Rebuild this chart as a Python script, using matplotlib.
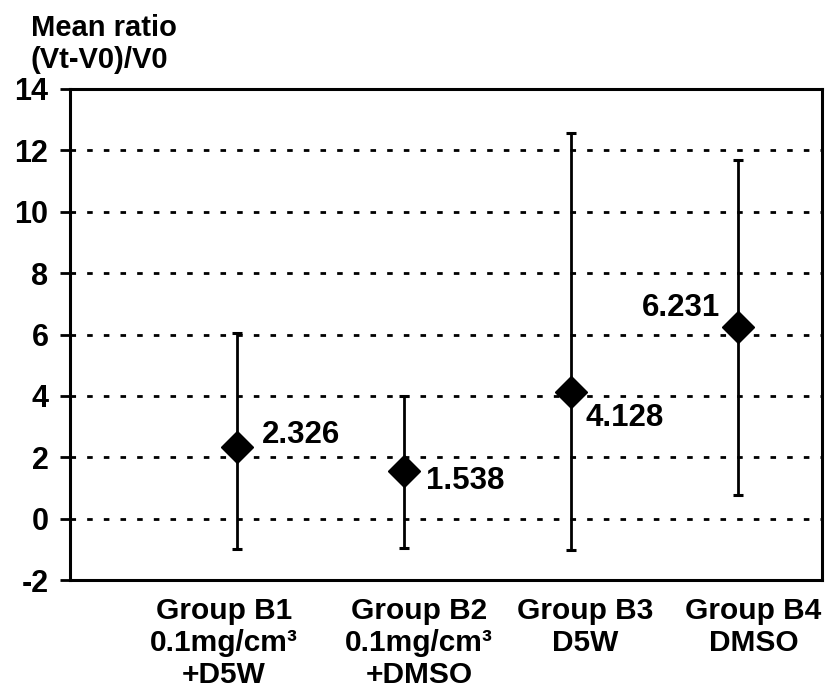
import numpy as np
import matplotlib.pyplot as plt
from matplotlib.transforms import ScaledTranslation

plt.rcParams['font.family'] = ['Liberation Sans', 'DejaVu Sans']
plt.rcParams['font.weight'] = 'bold'
plt.rcParams['axes.unicode_minus'] = False

# group labels, means and the ends of the error bars
groups = ['Group B1\n0.1mg/cm\u00b3\n+D5W',
          'Group B2\n0.1mg/cm\u00b3\n+DMSO',
          'Group B3\nD5W',
          'Group B4\nDMSO']
means = [2.326, 1.538, 4.128, 6.231]
upper = [6.05, 4.0, 12.55, 11.68]
lower = [-1.0, -0.97, -1.03, 0.78]

fig = plt.figure(figsize=(8.28, 6.92), dpi=100)
ax = fig.add_axes([70 / 828, 1 - 580 / 692, 752 / 828, 491 / 692])

x = np.arange(1, len(means) + 1)
m = np.array(means)
yerr = [m - np.array(lower), np.array(upper) - m]

ax.errorbar(x, m, yerr=yerr, fmt='D', color='black', ms=16,
            elinewidth=2, capsize=3.5, capthick=2.2, zorder=3)

# value labels next to each diamond (offsets in points)
offsets = [(18, 9, 'left'), (16, -7, 'left'), (10, -19, 'left'), (-13, 14, 'right')]
for xi, yi, (dx, dy, ha) in zip(x, means, offsets):
    ax.annotate(f'{yi:.3f}', (xi, yi), xytext=(dx, dy), textcoords='offset points',
                ha=ha, va='center', fontsize=22.5, fontweight='bold')

ax.set_xlim(0, 4.5)
ax.set_ylim(-2, 14)
ax.set_yticks(np.arange(-2, 15, 2))
ax.set_xticks(x)
ax.set_xticklabels(groups, fontsize=21.5, fontweight='bold', linespacing=1.2)
ax.tick_params(axis='x', length=0, pad=12)
ax.tick_params(axis='y', length=7.5, width=2, pad=8, labelsize=22)

# nudge the category labels sideways
shifts = [-13, 15, 14, 15]
for lab, s in zip(ax.get_xticklabels(), shifts):
    lab.set_transform(lab.get_transform() + ScaledTranslation(s / 100, 0, fig.dpi_scale_trans))

for gy in range(0, 13, 2):
    ax.axhline(gy, color='black', lw=2, ls=(0, (2, 4)), zorder=1)

for sp in ax.spines.values():
    sp.set_linewidth(2.2)

fig.text(31 / 828, 1 - 14 / 692, 'Mean ratio\n(Vt-V0)/V0', ha='left', va='top',
         fontsize=21, fontweight='bold', linespacing=1.2)

fig.savefig('out.png', dpi=100)
